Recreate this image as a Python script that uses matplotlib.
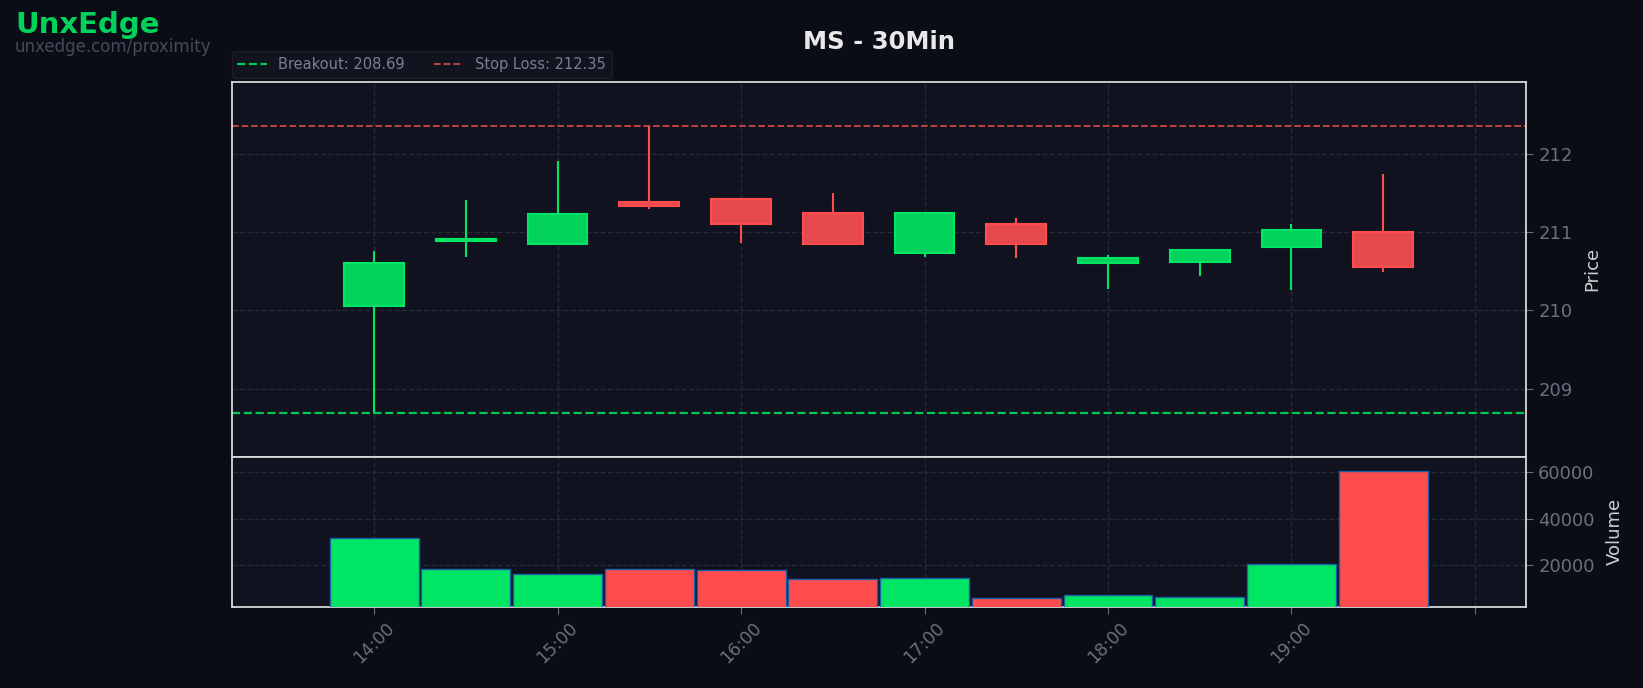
import numpy as np
import matplotlib.pyplot as plt

# 30-min candles, MS
times = [14.0, 14.5, 15.0, 15.5, 16.0, 16.5, 17.0, 17.5, 18.0, 18.5, 19.0, 19.5]
opens = [210.06, 210.89, 210.85, 211.38, 211.43, 211.24, 210.73, 211.10, 210.61, 210.62, 210.81, 211.00]
highs = [210.76, 211.41, 211.91, 212.35, 211.43, 211.50, 211.24, 211.18, 210.71, 210.77, 211.11, 211.74]
lows = [208.69, 210.68, 210.85, 211.29, 210.86, 210.85, 210.68, 210.67, 210.27, 210.44, 210.26, 210.49]
closes = [210.60, 210.91, 211.23, 211.34, 211.11, 210.85, 211.24, 210.85, 210.67, 210.77, 211.03, 210.56]
volumes = [31900, 18400, 16200, 18400, 18000, 14200, 14600, 5900, 7200, 6400, 20300, 60600]

breakout = 208.69
stop_loss = 212.35

hour_ticks = [14, 15, 16, 17, 18, 19, 20]
hour_labels = ['14:00', '15:00', '16:00', '17:00', '18:00', '19:00', '']

BG = '#0a0d15'
AX_BG = '#10131f'
GREEN_F = '#00d25b'
GREEN_E = '#00e664'
RED_F = '#e5484d'
RED_E = '#ff4d4d'
TICK_C = '#6b7080'
GRID_C = '#262a36'

fig = plt.figure(figsize=(16.43, 6.88), dpi=100, facecolor=BG)
gs = fig.add_gridspec(2, 1, height_ratios=[2.5, 1], hspace=0,
                      left=0.141, right=0.929, top=0.881, bottom=0.118)
ax = fig.add_subplot(gs[0])
axv = fig.add_subplot(gs[1], sharex=ax)

for a in (ax, axv):
    a.set_facecolor(AX_BG)
    for s in a.spines.values():
        s.set_color('#d8d8d8')
        s.set_linewidth(1.3)
    a.grid(True, color=GRID_C, linestyle='--', linewidth=1)
    a.yaxis.tick_right()
    a.yaxis.set_label_position('right')
    a.tick_params(colors=TICK_C, labelsize=13, length=5)
    a.set_axisbelow(True)

# candles
cw = 0.325
for t, o, h, l, c in zip(times, opens, highs, lows, closes):
    up = c >= o
    fc = GREEN_F if up else RED_F
    ec = GREEN_E if up else RED_E
    ax.vlines(t, l, h, color=ec, linewidth=1.5, zorder=2)
    ax.bar(t, abs(c - o), width=cw, bottom=min(o, c), color=fc,
           edgecolor=ec, linewidth=1.5, zorder=3)

ax.axhline(breakout, color='#00c853', linestyle='--', linewidth=1.6,
           label=f'Breakout: {breakout:.2f}', zorder=1)
ax.axhline(stop_loss, color='#d04545', linestyle='--', linewidth=1.3,
           label=f'Stop Loss: {stop_loss:.2f}', zorder=1)

ax.set_ylim(208.13, 212.92)
ax.set_yticks([209, 210, 211, 212])
ax.set_ylabel('Price', color='#d0d0d0', fontsize=13, labelpad=8)
plt.setp(ax.get_xticklabels(), visible=False)
ax.tick_params(axis='x', length=0)

leg = ax.legend(loc='lower left', bbox_to_anchor=(0, 1.01), ncol=2,
                fontsize=10.5, frameon=True, borderaxespad=0.0, columnspacing=2.0)
leg.get_frame().set_facecolor('#131722')
leg.get_frame().set_edgecolor('#1e2230')
for txt in leg.get_texts():
    txt.set_color('#7a8090')

# volume
vcols = [GREEN_E if c >= o else RED_E for o, c in zip(opens, closes)]
axv.bar(times, volumes, width=0.485, color=vcols, edgecolor='#1f5fa8',
        linewidth=1, zorder=3)
axv.set_ylim(2000, 66700)
axv.set_yticks([20000, 40000, 60000])
axv.set_ylabel('Volume', color='#d0d0d0', fontsize=13, labelpad=8)

axv.set_xlim(13.224, 20.28)
axv.set_xticks(hour_ticks)
axv.set_xticklabels(hour_labels, rotation=45, color=TICK_C, fontsize=12.5)

fig.text(0.535, 0.939, 'MS - 30Min', ha='center', va='center',
         color='#e8e8e8', fontsize=17.5, fontweight='bold')
fig.text(0.0095, 0.963, 'UnxEdge', ha='left', va='center',
         color='#00d25b', fontsize=21, fontweight='bold')
fig.text(0.009, 0.932, 'unxedge.com/proximity', ha='left', va='center',
         color='#454b5a', fontsize=12)

fig.savefig('out.png', dpi=100, facecolor=BG)
